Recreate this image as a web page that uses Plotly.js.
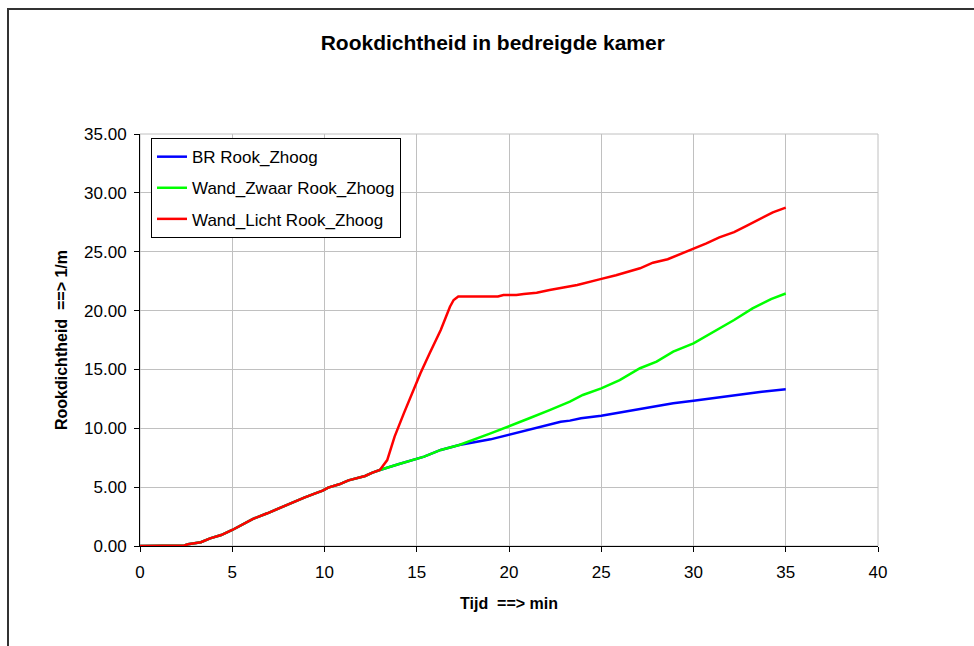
<!DOCTYPE html>
<html>
<head>
<meta charset="utf-8">
<script src="https://cdn.plot.ly/plotly-3.0.1.min.js"></script>
<style>
html,body{margin:0;padding:0;background:#fff;}
#chart{width:974px;height:646px;}
</style>
</head>
<body>
<div id="chart"></div>
<script>
// ---- data (time in min, smoke density in 1/m) ----
const seriesNames = ["BR Rook_Zhoog", "Wand_Zwaar Rook_Zhoog", "Wand_Licht Rook_Zhoog"];
const seriesColors = ["#0000ff", "#00ff00", "#ff0000"];

const tBR = [0, 1.4, 1.6, 2.4, 2.6, 3.0, 3.3, 3.8, 4.4, 5.0, 5.5, 6.1, 6.9, 7.6, 8.2, 8.9, 9.5, 9.9, 10.2, 10.8, 11.3, 12.2, 12.6, 13.0,
  14.0, 15.0, 15.4, 16.3, 17.3, 19.0, 20.0, 21.1, 21.7, 22.2, 22.8, 23.3, 23.9, 25.0, 26.2, 27.5, 28.9, 30.0, 31.4, 32.5, 33.6, 35.0];
const vBR = [0, 0, 0.05, 0.05, 0.15, 0.28, 0.32, 0.65, 0.93, 1.36, 1.78, 2.29, 2.78, 3.26, 3.68, 4.11, 4.47, 4.70, 4.96, 5.24, 5.58, 5.95, 6.23, 6.46,
  6.95, 7.45, 7.59, 8.16, 8.58, 9.06, 9.45, 9.94, 10.14, 10.36, 10.56, 10.65, 10.85, 11.07, 11.41, 11.78, 12.12, 12.34, 12.63, 12.89, 13.08, 13.31];

const tZwaar = [0, 1.4, 1.6, 2.4, 2.6, 3.0, 3.3, 3.8, 4.4, 5.0, 5.5, 6.1, 6.9, 7.6, 8.2, 8.9, 9.5, 9.9, 10.2, 10.8, 11.3, 12.2, 12.6, 13.0,
  14.0, 15.0, 15.4, 16.3, 17.3, 19.0, 20.0, 21.1, 22.2, 23.3, 24.0, 25.0, 26.0, 27.1, 28.0, 28.9, 30.0, 31.1, 32.2, 33.2, 34.2, 35.0];
const vZwaar = [0, 0, 0.05, 0.05, 0.15, 0.28, 0.32, 0.65, 0.93, 1.36, 1.78, 2.29, 2.78, 3.26, 3.68, 4.11, 4.47, 4.70, 4.96, 5.24, 5.58, 5.95, 6.23, 6.46,
  6.95, 7.45, 7.59, 8.16, 8.58, 9.57, 10.15, 10.85, 11.55, 12.26, 12.83, 13.39, 14.1, 15.1, 15.66, 16.51, 17.22, 18.21, 19.2, 20.19, 20.98, 21.45];

const tLicht = [0, 1.4, 1.6, 2.4, 2.6, 3.0, 3.3, 3.8, 4.4, 5.0, 5.5, 6.1, 6.9, 7.6, 8.2, 8.9, 9.5, 9.9, 10.2, 10.8, 11.3, 12.2, 12.6, 13.0,
  13.4, 13.8, 14.3, 14.7, 15.2, 15.7, 16.3, 16.8, 17.0, 17.25, 19.4, 19.7, 20.4, 20.8, 21.5, 22.2, 23.0, 23.7, 24.9, 25.8, 27.1, 27.8, 28.6, 29.3, 30.0, 30.7, 31.4, 32.2, 32.9, 33.6, 34.3, 35.0];
const vLicht = [0, 0, 0.05, 0.05, 0.15, 0.28, 0.32, 0.65, 0.93, 1.36, 1.78, 2.29, 2.78, 3.26, 3.68, 4.11, 4.47, 4.70, 4.96, 5.24, 5.58, 5.95, 6.23, 6.46,
  7.3, 9.29, 11.27, 12.83, 14.67, 16.37, 18.35, 20.33, 20.9, 21.2, 21.2, 21.32, 21.32, 21.4, 21.52, 21.75, 21.97, 22.17, 22.65, 23.0, 23.59, 24.07, 24.36, 24.8, 25.23, 25.71, 26.22, 26.67, 27.21, 27.75, 28.35, 28.75];

const chartTitle = "Rookdichtheid in bedreigde kamer";
const xTitle = "Tijd \u00a0==> min";
const yTitle = "Rookdichtheid \u00a0==> 1/m";

const xs = [tBR, tZwaar, tLicht];
const ys = [vBR, vZwaar, vLicht];

const FONT = "Liberation Sans, Arial, sans-serif";

const traces = seriesNames.map((n, i) => ({
  type: "scatter",
  mode: "lines",
  name: n,
  x: xs[i],
  y: ys[i],
  legendgroup: "g" + i,
  line: {color: seriesColors[i], width: 2.5},
  hoverinfo: "skip"
}));

const layout = {
  width: 974,
  height: 646,
  margin: {l: 140, r: 96, t: 134, b: 100, pad: 0},
  paper_bgcolor: "#ffffff",
  plot_bgcolor: "#ffffff",
  font: {family: FONT, size: 17, color: "#000"},
  showlegend: true,
  title: {
    text: chartTitle,
    font: {family: FONT, size: 21, weight: "bold", color: "#000"},
    xref: "paper", x: 0.478, xanchor: "center",
    yref: "container", y: 1 - 43/646, yanchor: "middle"
  },
  legend: {
    x: 0.0149, y: 0.99, xanchor: "left", yanchor: "top",
    bgcolor: "#ffffff", bordercolor: "#000000", borderwidth: 1,
    font: {family: FONT, size: 17, color: "#000"},
    tracegroupgap: 6,
    itemwidth: 30
  },
  xaxis: {
    range: [0, 40],
    tick0: 0, dtick: 5,
    showgrid: true, gridcolor: "#c0c0c0", gridwidth: 1,
    zeroline: false,
    showline: true, linecolor: "#000", linewidth: 1,
    ticks: "outside", ticklen: 5, tickcolor: "#000", tickwidth: 1,
    ticklabelstandoff: 6,
    tickfont: {family: FONT, size: 17, color: "#000"},
    title: {text: xTitle, font: {family: FONT, size: 16, weight: "bold", color: "#000"}, standoff: 16},
    fixedrange: true
  },
  yaxis: {
    range: [0, 35],
    tick0: 0, dtick: 5,
    tickformat: ".2f",
    showgrid: true, gridcolor: "#c0c0c0", gridwidth: 1,
    zeroline: false,
    showline: true, linecolor: "#000", linewidth: 1,
    ticks: "outside", ticklen: 5, tickcolor: "#000", tickwidth: 1,
    ticklabelstandoff: 4,
    tickfont: {family: FONT, size: 17, color: "#000"},
    title: {text: yTitle, font: {family: FONT, size: 16, weight: "bold", color: "#000"}, standoff: 12},
    fixedrange: true
  },
  shapes: [
    // gray frame of plot area
    {type: "rect", xref: "paper", yref: "paper", x0: 0, x1: 1, y0: 0, y1: 1,
     line: {color: "#c0c0c0", width: 1}, layer: "below"},
    // outer chart border (extends past the right/bottom of the picture)
    {type: "rect", xref: "paper", yref: "paper",
     x0: (8 - 140) / 738, x1: (990 - 140) / 738,
     y0: (546 - 660) / 412, y1: (546 - 9) / 412,
     line: {color: "#333333", width: 2}, layer: "below"}
  ]
};

Plotly.newPlot("chart", traces, layout, {displayModeBar: false, staticPlot: true});
</script>
</body>
</html>
